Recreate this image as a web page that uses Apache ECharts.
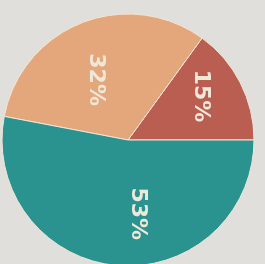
<!DOCTYPE html>
<html><head><meta charset="utf-8">
<script src="https://cdn.jsdelivr.net/npm/echarts@6/dist/echarts.min.js"></script>
<style>html,body{margin:0;padding:0;background:#e0dfdb;}#c{width:265px;height:264px;}</style>
</head><body><div id="c"></div>
<script>
const categories = ['A', 'B', 'C'];
const values = [15, 32, 53];
const colors = ['#bb5e52', '#e4a77b', '#2a9390'];
// label nudges in the rotated label frame [dx, dy]
const labelShift = [[-14, -14], [1, 8], [8, -16]];

const chart = echarts.init(document.getElementById('c'), null, {renderer: 'canvas'});
chart.setOption({
  backgroundColor: '#e0dfdb',
  animation: false,
  series: [{
    type: 'pie',
    center: [128, 140],
    radius: [0, 126],
    startAngle: 0,
    clockwise: false,
    silent: true,
    itemStyle: {borderColor: '#f0e6d8', borderWidth: 1},
    label: {
      show: true,
      position: 'inside',
      rotate: -90,
      formatter: '{c}%',
      color: '#efe7d8',
      fontFamily: 'DejaVu Sans',
      fontWeight: 'bold',
      fontSize: 22
    },
    labelLine: {show: false},
    labelLayout: function (p) {
      const s = labelShift[p.dataIndex];
      return {dx: s[0], dy: s[1]};
    },
    data: categories.map((c, i) => ({name: c, value: values[i], itemStyle: {color: colors[i]}}))
  }]
});
</script></body></html>
